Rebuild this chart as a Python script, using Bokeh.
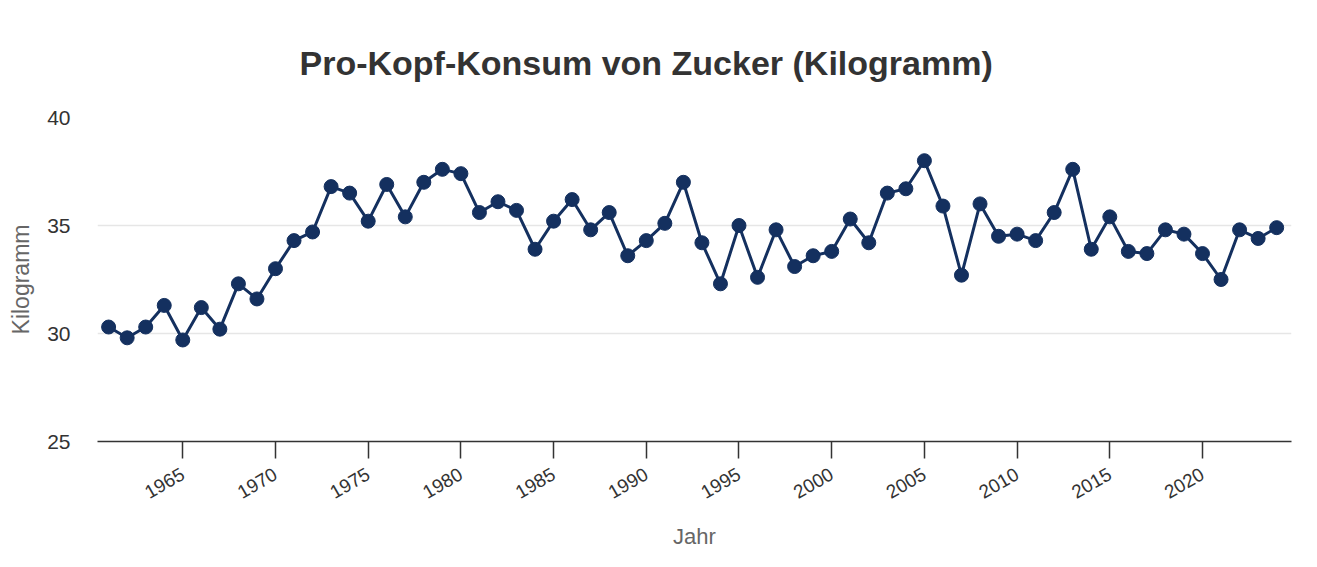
import math
from bokeh.plotting import figure
from bokeh.models import Range1d, FixedTicker, Title
from bokeh.embed import file_html
from bokeh.resources import INLINE

years = list(range(1961, 2025))
kilogramm = [30.3, 29.8, 30.3, 31.3, 29.7, 31.2, 30.2, 32.3, 31.6, 33.0,
             34.3, 34.7, 36.8, 36.5, 35.2, 36.9, 35.4, 37.0, 37.6, 37.4,
             35.6, 36.1, 35.7, 33.9, 35.2, 36.2, 34.8, 35.6, 33.6, 34.3,
             35.1, 37.0, 34.2, 32.3, 35.0, 32.6, 34.8, 33.1, 33.6, 33.8,
             35.3, 34.2, 36.5, 36.7, 38.0, 35.9, 32.7, 36.0, 34.5, 34.6,
             34.3, 35.6, 37.6, 33.9, 35.4, 33.8, 33.7, 34.8, 34.6, 33.7,
             32.5, 34.8, 34.4, 34.9]
x_ticks = [1965, 1970, 1975, 1980, 1985, 1990, 1995, 2000, 2005, 2010, 2015, 2020]
y_ticks = [25, 30, 35, 40]

FONT = "Liberation Sans"
NAVY = "#14305f"

p = figure(width=1309, height=551, output_backend="svg", toolbar_location=None,
           x_range=Range1d(1960.4, 2024.8), y_range=Range1d(25, 40),
           min_border_left=97, min_border_right=18, min_border_top=117,
           min_border_bottom=110)
p.margin = (0, 0, 0, 0)
p.background_fill_color = "white"
p.border_fill_color = "white"
p.outline_line_color = None

p.title = Title(text="Pro-Kopf-Konsum von Zucker (Kilogramm)", align="left",
                text_font=FONT, text_font_size="34px", text_font_style="bold",
                text_color="#333333", standoff=72, offset=202)

p.line(years, kilogramm, line_color=NAVY, line_width=3)
p.scatter(years, kilogramm, size=14, fill_color=NAVY, line_color=NAVY)

p.xgrid.grid_line_color = None
p.ygrid.grid_line_color = "#e6e6e6"
p.ygrid.grid_line_width = 1.5

xa = p.xaxis[0]
xa.ticker = FixedTicker(ticks=x_ticks)
xa.axis_line_color = "#333333"
xa.axis_line_width = 1.5
xa.major_tick_line_color = "#333333"
xa.major_tick_line_width = 1.5
xa.major_tick_out = 17
xa.major_tick_in = 0
xa.minor_tick_line_color = None
xa.major_label_orientation = math.pi / 6
xa.major_label_text_font = FONT
xa.major_label_text_font_size = "19px"
xa.major_label_text_color = "#333333"
xa.major_label_standoff = 14
xa.axis_label = "Jahr"
xa.axis_label_text_font = FONT
xa.axis_label_text_font_size = "22px"
xa.axis_label_text_font_style = "normal"
xa.axis_label_text_color = "#666666"
xa.axis_label_standoff = 16

ya = p.yaxis[0]
ya.ticker = FixedTicker(ticks=y_ticks)
ya.axis_line_color = None
ya.major_tick_line_color = None
ya.minor_tick_line_color = None
ya.major_label_text_font = FONT
ya.major_label_text_font_size = "21px"
ya.major_label_text_color = "#333333"
ya.major_label_standoff = 21
ya.axis_label = "Kilogramm"
ya.axis_label_text_font = FONT
ya.axis_label_text_font_size = "23px"
ya.axis_label_text_font_style = "normal"
ya.axis_label_text_color = "#666666"
ya.axis_label_standoff = 10

html = file_html(p, INLINE)
html = html.replace("<body>", '<body style="background:#f8f8f8">', 1)
open("out.html", "w").write(html)
